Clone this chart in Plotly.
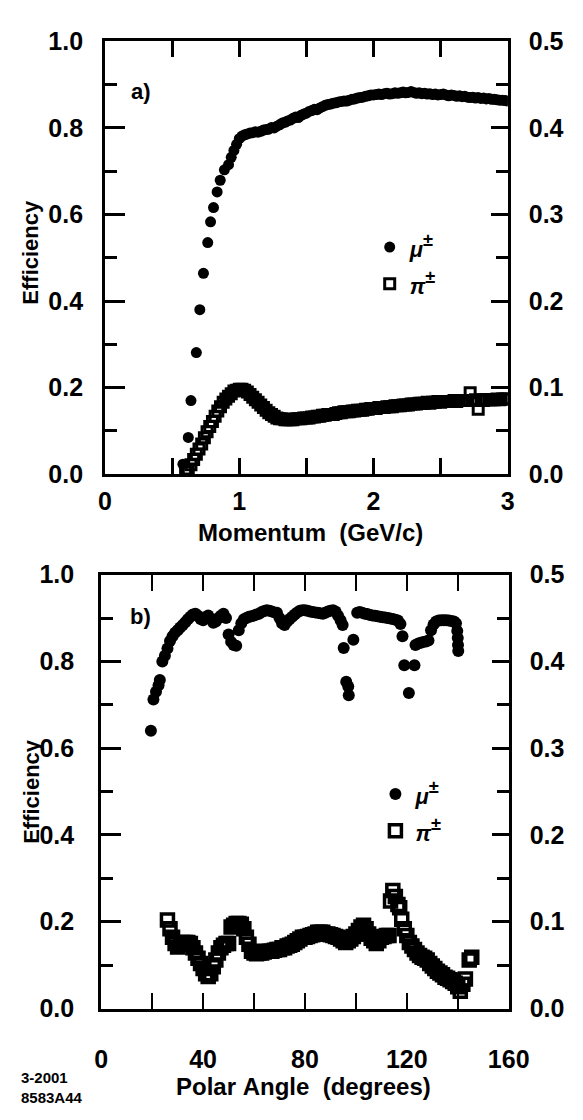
import plotly.graph_objects as go

# ---------------- Panel a: efficiency vs momentum ----------------
mu_a_p = [0.58, 0.62, 0.64, 0.68, 0.706, 0.733, 0.765, 0.786, 0.808, 0.835, 0.858, 0.889,
          0.92, 0.94, 0.96, 0.98, 1.00, 1.02, 1.04, 1.06, 1.08, 1.10, 1.12, 1.14, 1.16, 1.18,
          1.20, 1.22, 1.24, 1.26, 1.28, 1.30, 1.32, 1.34, 1.36, 1.38, 1.40, 1.42, 1.44, 1.46,
          1.48, 1.50, 1.52, 1.54, 1.56, 1.58, 1.60, 1.62, 1.64, 1.66, 1.68, 1.70, 1.72, 1.74,
          1.76, 1.78, 1.80, 1.82, 1.84, 1.86, 1.88, 1.90, 1.92, 1.94, 1.96, 1.98, 2.00, 2.02,
          2.04, 2.06, 2.08, 2.10, 2.12, 2.14, 2.16, 2.18, 2.20, 2.22, 2.24, 2.26, 2.28, 2.30,
          2.32, 2.34, 2.36, 2.38, 2.40, 2.42, 2.44, 2.46, 2.48, 2.50, 2.52, 2.54, 2.56, 2.58,
          2.60, 2.62, 2.64, 2.66, 2.68, 2.70, 2.72, 2.74, 2.76, 2.78, 2.80, 2.82, 2.84, 2.86,
          2.88, 2.90, 2.92, 2.94, 2.96, 2.98, 3.00]
mu_a_eff = [0.023, 0.085, 0.170, 0.281, 0.380, 0.464, 0.535, 0.583, 0.616, 0.652, 0.679, 0.703,
            0.715, 0.732, 0.748, 0.762, 0.775, 0.781, 0.784, 0.786, 0.788, 0.789, 0.791, 0.790,
            0.792, 0.795, 0.796, 0.797, 0.801, 0.800, 0.804, 0.807, 0.811, 0.813, 0.816, 0.818,
            0.822, 0.825, 0.824, 0.829, 0.832, 0.834, 0.838, 0.840, 0.843, 0.842, 0.846, 0.849,
            0.852, 0.854, 0.855, 0.857, 0.858, 0.860, 0.861, 0.862, 0.862, 0.864, 0.866, 0.867,
            0.869, 0.870, 0.871, 0.873, 0.874, 0.876, 0.876, 0.877, 0.878, 0.877, 0.879, 0.880,
            0.878, 0.879, 0.881, 0.880, 0.881, 0.883, 0.881, 0.882, 0.884, 0.882, 0.880, 0.881,
            0.879, 0.880, 0.878, 0.879, 0.877, 0.878, 0.876, 0.877, 0.878, 0.876, 0.874, 0.876,
            0.875, 0.873, 0.874, 0.872, 0.873, 0.871, 0.870, 0.871, 0.869, 0.870, 0.868, 0.869,
            0.867, 0.868, 0.866, 0.866, 0.865, 0.864, 0.864, 0.863, 0.862]

pi_a_p = [0.60, 0.62, 0.64, 0.66, 0.68, 0.70, 0.72, 0.74, 0.76, 0.78, 0.80, 0.82, 0.84, 0.86,
          0.88, 0.90, 0.92, 0.94, 0.96, 0.98, 1.00, 1.02, 1.04, 1.06, 1.08, 1.10, 1.12, 1.14,
          1.16, 1.18, 1.20, 1.22, 1.24, 1.26, 1.28, 1.30, 1.32, 1.34, 1.36, 1.38, 1.40, 1.42,
          1.44, 1.46, 1.48, 1.50, 1.52, 1.54, 1.56, 1.58, 1.60, 1.62, 1.64, 1.66, 1.68, 1.70,
          1.72, 1.74, 1.76, 1.78, 1.80, 1.82, 1.84, 1.86, 1.88, 1.90, 1.92, 1.94, 1.96, 1.98,
          2.00, 2.02, 2.04, 2.06, 2.08, 2.10, 2.12, 2.14, 2.16, 2.18, 2.20, 2.22, 2.24, 2.26,
          2.28, 2.30, 2.32, 2.34, 2.36, 2.38, 2.40, 2.42, 2.44, 2.46, 2.48, 2.50, 2.52, 2.54,
          2.56, 2.58, 2.60, 2.62, 2.64, 2.66, 2.68, 2.70, 2.72, 2.74, 2.76, 2.78, 2.80, 2.82,
          2.84, 2.86, 2.88, 2.90, 2.92, 2.94, 2.96, 2.98, 3.00]
# pion efficiency is read on the right-hand axis (0 - 0.5)
pi_a_eff = [0.003, 0.006, 0.011, 0.017, 0.023, 0.029, 0.035, 0.042, 0.049, 0.055, 0.061, 0.067,
            0.073, 0.078, 0.083, 0.087, 0.090, 0.093, 0.096, 0.097, 0.098, 0.098, 0.097, 0.095,
            0.092, 0.089, 0.086, 0.083, 0.080, 0.077, 0.074, 0.071, 0.069, 0.067, 0.065, 0.064,
            0.064, 0.063, 0.063, 0.063, 0.063, 0.064, 0.064, 0.064, 0.065, 0.065, 0.065, 0.066,
            0.066, 0.067, 0.067, 0.068, 0.068, 0.069, 0.069, 0.069, 0.070, 0.071, 0.071, 0.072,
            0.072, 0.072, 0.073, 0.073, 0.074, 0.074, 0.074, 0.075, 0.075, 0.076, 0.076, 0.076,
            0.077, 0.077, 0.077, 0.078, 0.078, 0.078, 0.079, 0.079, 0.079, 0.080, 0.080, 0.080,
            0.081, 0.081, 0.081, 0.082, 0.082, 0.082, 0.083, 0.082, 0.083, 0.083, 0.084, 0.083,
            0.084, 0.084, 0.084, 0.084, 0.085, 0.084, 0.085, 0.085, 0.085, 0.085, 0.094, 0.085,
            0.086, 0.075, 0.086, 0.085, 0.086, 0.086, 0.086, 0.086, 0.087, 0.086, 0.087, 0.087,
            0.087]

# ---------------- Panel b: efficiency vs polar angle ----------------
mu_b_theta = [19.5, 20.5, 21.5, 22.5, 23.0, 24.0, 25.0, 26.0, 27.0, 28.0, 29.0, 30.0, 31.0,
              32.0, 33.0, 34.0, 35.0, 36.0, 37.0, 38.0, 39.0, 40.0, 41.0, 42.0, 43.0, 44.0,
              45.0, 46.0, 47.0, 48.0, 49.0, 50.0, 51.0, 52.0, 53.0, 54.0, 55.0, 56.0, 57.0,
              58.0, 59.0, 60.0, 61.0, 62.0, 63.0, 64.0, 65.0, 66.0, 67.0, 68.0, 69.0, 70.0,
              71.0, 72.0, 73.0, 74.0, 75.0, 76.0, 77.0, 78.0, 79.0, 80.0, 81.0, 82.0, 83.0,
              84.0, 85.0, 86.0, 87.0, 88.0, 89.0, 90.0, 91.0, 92.0, 93.0, 94.0, 94.8, 95.2,
              96.2, 97.0, 97.2, 99.0, 100.5, 101.5, 102.5, 103.5, 104.5, 105.5, 106.5, 107.5,
              108.5, 109.5, 110.5, 111.5, 112.5, 113.5, 114.5, 115.5, 116.5, 117.5, 118.3,
              119.0, 123.0, 120.8, 123.4, 124.5, 125.5, 126.5, 127.5, 128.5, 129.5, 130.5,
              131.5, 132.5, 133.5, 134.5, 135.5, 136.5, 137.5, 138.5, 139.3, 139.8, 140.0,
              140.1, 140.2]
mu_b_eff = [0.640, 0.712, 0.730, 0.745, 0.757, 0.800, 0.813, 0.830, 0.847, 0.858, 0.866, 0.872,
            0.878, 0.884, 0.890, 0.897, 0.903, 0.908, 0.910, 0.905, 0.898, 0.895, 0.902, 0.906,
            0.898, 0.889, 0.892, 0.900, 0.905, 0.910, 0.900, 0.862, 0.845, 0.838, 0.836, 0.872,
            0.888, 0.897, 0.900, 0.903, 0.904, 0.906, 0.908, 0.910, 0.914, 0.916, 0.918, 0.917,
            0.915, 0.913, 0.912, 0.900, 0.888, 0.884, 0.892, 0.898, 0.903, 0.908, 0.913, 0.917,
            0.918, 0.918, 0.917, 0.915, 0.914, 0.913, 0.912, 0.911, 0.910, 0.912, 0.915, 0.917,
            0.918, 0.915, 0.905, 0.895, 0.884, 0.831, 0.753, 0.742, 0.722, 0.850, 0.912, 0.914,
            0.912, 0.910, 0.909, 0.907, 0.906, 0.905, 0.904, 0.903, 0.902, 0.901, 0.900, 0.899,
            0.898, 0.896, 0.894, 0.886, 0.858, 0.791, 0.791, 0.727, 0.838, 0.841, 0.843, 0.845,
            0.846, 0.848, 0.872, 0.885, 0.892, 0.894, 0.895, 0.895, 0.895, 0.894, 0.893, 0.892,
            0.888, 0.870, 0.854, 0.838, 0.824]

pi_b_theta = [26, 27, 28, 29, 30, 31, 32, 33, 34, 35, 36, 37, 38, 39, 40, 41, 42, 43, 44, 45,
              46, 47, 48, 49, 50, 51, 52, 53, 54, 55, 56, 57, 58, 59, 60, 61, 62, 63, 64, 65,
              66, 67, 68, 69, 70, 71, 72, 73, 74, 75, 76, 77, 78, 79, 80, 81, 82, 83, 84, 85,
              86, 87, 88, 89, 90, 91, 92, 93, 94, 95, 96, 97, 98, 99, 100, 101, 102, 103, 104,
              105, 106, 107, 108, 109, 110, 111, 112, 113, 113.6, 114.5, 115.5, 116.5, 117.2,
              118, 119, 120, 121, 122, 123, 124, 125, 126, 127, 128, 129, 130, 131, 132, 133,
              134, 135, 136, 137, 138, 139, 140, 141, 142, 143, 144.5, 145.5]
# pion efficiency is read on the right-hand axis (0 - 0.5)
pi_b_eff = [0.102, 0.092, 0.082, 0.075, 0.071, 0.074, 0.076, 0.076, 0.076, 0.075, 0.070, 0.064,
            0.058, 0.052, 0.046, 0.040, 0.037, 0.040, 0.048, 0.056, 0.064, 0.070, 0.073, 0.075,
            0.075, 0.094, 0.096, 0.098, 0.098, 0.097, 0.092, 0.082, 0.074, 0.066, 0.064, 0.063,
            0.064, 0.064, 0.065, 0.066, 0.066, 0.066, 0.067, 0.068, 0.068, 0.070, 0.070, 0.072,
            0.073, 0.074, 0.076, 0.078, 0.080, 0.082, 0.082, 0.083, 0.084, 0.085, 0.086, 0.088,
            0.088, 0.088, 0.086, 0.086, 0.085, 0.084, 0.083, 0.082, 0.080, 0.078, 0.076, 0.078,
            0.080, 0.083, 0.086, 0.090, 0.094, 0.096, 0.092, 0.086, 0.081, 0.078, 0.075, 0.078,
            0.082, 0.083, 0.084, 0.084, 0.124, 0.136, 0.129, 0.120, 0.116, 0.103, 0.092, 0.084,
            0.076, 0.072, 0.068, 0.064, 0.061, 0.059, 0.058, 0.056, 0.052, 0.049, 0.046, 0.043,
            0.041, 0.039, 0.036, 0.035, 0.033, 0.031, 0.029, 0.025, 0.020, 0.028, 0.034, 0.056,
            0.059]

left_ticks = [0.0, 0.2, 0.4, 0.6, 0.8, 1.0]
right_ticks = [0.0, 0.1, 0.2, 0.3, 0.4, 0.5]
mom_ticks = [0, 1, 2, 3]
angle_ticks = [0, 40, 80, 120, 160]

MU_NAME = "<span style='font-size:22px'><i>μ</i></span><sup>±</sup>"
PI_NAME = "<span style='font-size:22px'><i>π</i></span><sup>±</sup>"

FONT = "Liberation Sans, Arial, sans-serif"
W, H = 583, 1120

fig = go.Figure()
fig.add_trace(go.Scatter(x=mu_a_p, y=mu_a_eff, mode="markers", name=MU_NAME,
                         marker=dict(symbol="circle", size=11, color="black", line=dict(width=0)),
                         xaxis="x", yaxis="y", legend="legend", legendgroup="mu_a"))
fig.add_trace(go.Scatter(x=pi_a_p, y=pi_a_eff, mode="markers", name=PI_NAME,
                         marker=dict(symbol="square-open", size=10, color="black", line=dict(width=3)),
                         xaxis="x", yaxis="y2", legend="legend", legendgroup="pi_a"))
fig.add_trace(go.Scatter(x=mu_b_theta, y=mu_b_eff, mode="markers", name=MU_NAME,
                         marker=dict(symbol="circle", size=12, color="black", line=dict(width=0)),
                         xaxis="x2", yaxis="y3", legend="legend2", legendgroup="mu_b"))
fig.add_trace(go.Scatter(x=pi_b_theta, y=pi_b_eff, mode="markers", name=PI_NAME,
                         marker=dict(symbol="square-open", size=12, color="black", line=dict(width=3.5)),
                         xaxis="x2", yaxis="y4", legend="legend2", legendgroup="pi_b"))

tickfont = dict(family=FONT, size=25, color="black", weight="bold")
common = dict(showgrid=False, zeroline=False, showline=True, linecolor="black", linewidth=3,
              ticks="inside", tickcolor="black", tickfont=tickfont)

fig.update_layout(
    width=W, height=H, margin=dict(l=0, r=0, t=0, b=0),
    paper_bgcolor="white", plot_bgcolor="white",
    font=dict(family=FONT, color="black"),
    xaxis=dict(domain=[103 / W, 526 / W], anchor="y", range=[0, 3], tickvals=mom_ticks,
               ticklen=16, tickwidth=2.5, mirror="allticks", ticklabelstandoff=3,
               minor=dict(dtick=0.5, tick0=0, ticklen=11, tickwidth=2.5, ticks="inside", tickcolor="black"),
               **common),
    yaxis=dict(domain=[(H - 472) / H, (H - 28) / H], anchor="x", range=[0, 1], tickvals=left_ticks,
               tickformat=".1f", ticklen=20, tickwidth=2.5, ticklabelstandoff=14,
               minor=dict(dtick=0.1, tick0=0, ticklen=12, tickwidth=2.5, ticks="inside", tickcolor="black"),
               **common),
    yaxis2=dict(overlaying="y", side="right", anchor="x", range=[0, 0.5], tickvals=right_ticks,
                tickformat=".1f", ticklen=17, tickwidth=2.5, ticklabelstandoff=13,
                minor=dict(dtick=0.05, tick0=0, ticklen=12, tickwidth=2.5, ticks="inside", tickcolor="black"),
                **common),
    xaxis2=dict(domain=[99 / W, 527 / W], anchor="y3", range=[0, 160], tickvals=angle_ticks,
                ticklen=16, tickwidth=1.5, mirror="allticks", ticklabelstandoff=26,
                minor=dict(dtick=20, tick0=0, ticklen=10, tickwidth=1.5, ticks="inside", tickcolor="black"),
                **common),
    yaxis3=dict(domain=[(H - 1020) / H, (H - 575) / H], anchor="x2", range=[0, 1], tickvals=left_ticks,
                tickformat=".1f", ticklen=20, tickwidth=2.5, ticklabelstandoff=19,
                minor=dict(dtick=0.1, tick0=0, ticklen=12, tickwidth=2.5, ticks="inside", tickcolor="black"),
                **common),
    yaxis4=dict(overlaying="y3", side="right", anchor="x2", range=[0, 0.5], tickvals=right_ticks,
                tickformat=".1f", ticklen=17, tickwidth=2.5, ticklabelstandoff=13,
                minor=dict(dtick=0.05, tick0=0, ticklen=12, tickwidth=2.5, ticks="inside", tickcolor="black"),
                **common),
    legend=dict(x=381 / W, y=(H - 215) / H, xanchor="left", yanchor="top",
                bgcolor="rgba(0,0,0,0)", borderwidth=0, traceorder="grouped", tracegroupgap=0,
                font=dict(family=FONT, size=26, color="black", weight="bold"), itemwidth=30),
    legend2=dict(x=387 / W, y=(H - 776) / H, xanchor="left", yanchor="top",
                 bgcolor="rgba(0,0,0,0)", borderwidth=0, traceorder="grouped", tracegroupgap=0,
                 font=dict(family=FONT, size=26, color="black", weight="bold"), itemwidth=30),
    showlegend=True,
)

def ann(text, x, y, size, angle=0, xanchor="center", yanchor="middle", align="center"):
    fig.add_annotation(text=text, x=x / W, y=(H - y) / H, xref="paper", yref="paper",
                       showarrow=False, textangle=angle, xanchor=xanchor, yanchor=yanchor,
                       align=align,
                       font=dict(family=FONT, size=size, color="black", weight="bold"))

ann("a)", 141, 80, 22)
ann("b)", 140, 618, 22)
ann("Efficiency", 25, 244, 22, angle=-90)
ann("Efficiency", 25, 797, 22, angle=-90)
ann("Momentum\u00a0\u00a0(GeV/c)", 319, 532, 24)
ann("Polar\u00a0Angle\u00a0\u00a0(degrees)", 311, 1100, 24)
ann("3-2001<br>8583A44", 13, 1101, 15, xanchor="left", align="left")

fig.write_html("out.html")
